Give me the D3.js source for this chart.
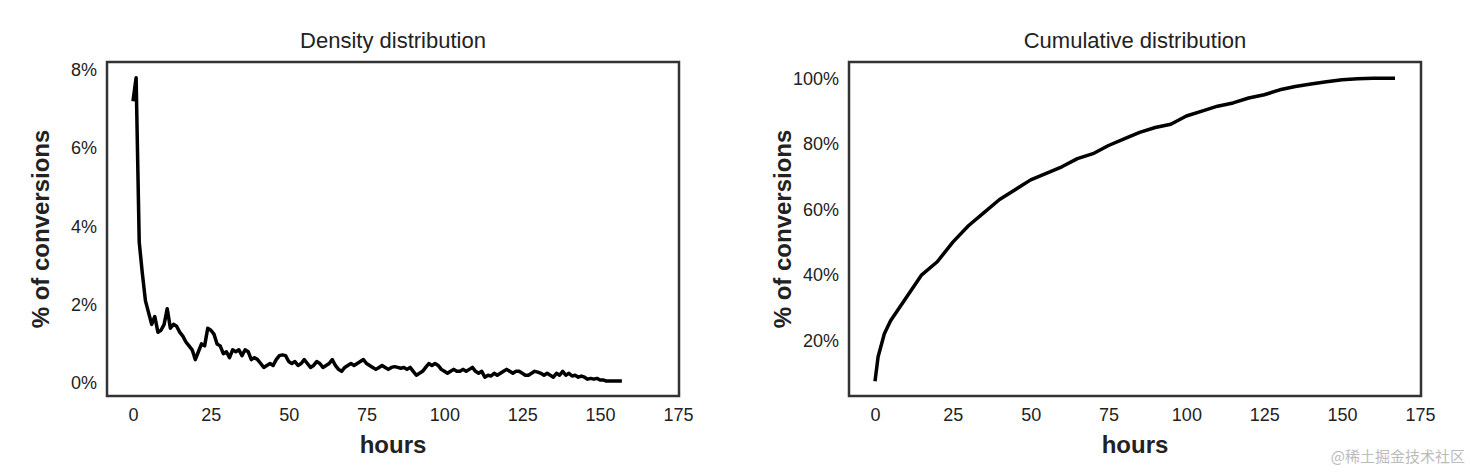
<!DOCTYPE html>
<html><head><meta charset="utf-8">
<script src="https://cdn.jsdelivr.net/npm/d3@7"></script>
<style>body{margin:0;background:#fff}svg{font-family:"Liberation Sans",Arial,sans-serif}</style>
</head><body><svg id="c" width="1470" height="472"></svg>
<script>
// density per hour, % of conversions (hours 0..167)
const densityVals = [
 7.2,7.8,3.6,2.8,2.1,1.8,1.5,1.7,1.3,1.35,1.5,1.9,1.4,1.5,1.45,1.3,1.2,1.05,0.95,0.85,
 0.6,0.8,1.0,0.95,1.4,1.35,1.25,1.0,0.95,0.75,0.8,0.65,0.85,0.8,0.85,0.7,0.85,0.8,0.6,0.65,
 0.6,0.5,0.4,0.45,0.5,0.45,0.6,0.7,0.72,0.7,0.55,0.5,0.55,0.45,0.5,0.6,0.5,0.4,0.45,0.55,
 0.5,0.4,0.45,0.5,0.6,0.45,0.35,0.3,0.4,0.45,0.5,0.45,0.5,0.55,0.6,0.5,0.45,0.4,0.35,0.4,
 0.45,0.4,0.35,0.4,0.42,0.4,0.38,0.4,0.35,0.4,0.3,0.2,0.25,0.3,0.4,0.5,0.45,0.5,0.45,0.35,
 0.3,0.25,0.3,0.35,0.3,0.3,0.35,0.3,0.35,0.4,0.3,0.25,0.3,0.15,0.2,0.18,0.25,0.2,0.25,0.3,
 0.35,0.3,0.25,0.3,0.3,0.25,0.2,0.2,0.25,0.3,0.28,0.25,0.2,0.25,0.2,0.15,0.25,0.2,0.3,0.2,
 0.25,0.18,0.2,0.15,0.18,0.15,0.1,0.12,0.1,0.12,0.08,0.08,0.05,0.05,0.05,0.05,0.05,0.05
];
const cumHours = [0,1,3,5,10,15,20,25,30,35,40,45,50,55,60,65,70,75,80,85,90,95,100,105,110,115,120,125,130,135,140,145,150,155,160,167];
const cumVals = [7.5,15,22,26,33,40,44,50,55,59,63,66,69,71,73,75.5,77,79.5,81.5,83.5,85,86,88.5,90,91.5,92.5,94,95,96.5,97.5,98.3,99,99.6,99.9,100,100];
const xTicks = [0,25,50,75,100,125,150,175];
const densTicks = [0,2,4,6,8];
const cumTicks = [20,40,60,80,100];

const svg = d3.select("#c");
const plotTop = 62, plotBottom = 396;

function panel(left, right, title, pts, yDomain, yTicks) {
  const x = d3.scaleLinear().domain([-8.35, 175.35]).range([left, right]);
  const y = d3.scaleLinear().domain(yDomain).range([plotBottom, plotTop]);
  const g = svg.append("g");
  g.append("text").attr("x", (left + right) / 2).attr("y", 48).attr("text-anchor", "middle")
    .attr("font-size", 22).attr("fill", "#222").text(title);
  const xa = g.append("g").attr("transform", `translate(0,${plotBottom})`)
    .call(d3.axisBottom(x).tickValues(xTicks).tickSize(0).tickPadding(12));
  xa.select(".domain").remove();
  xa.selectAll("text").attr("font-size", 18).attr("fill", "#222").attr("font-family", "Liberation Sans, Arial");
  const ya = g.append("g").attr("transform", `translate(${left},0)`)
    .call(d3.axisLeft(y).tickValues(yTicks).tickSize(0).tickPadding(10).tickFormat(d => d + "%"));
  ya.select(".domain").remove();
  ya.selectAll("text").attr("font-size", 18).attr("fill", "#222").attr("font-family", "Liberation Sans, Arial");
  g.append("path").datum(pts).attr("fill", "none").attr("stroke", "#000").attr("stroke-width", 3.5)
    .attr("stroke-linejoin", "round")
    .attr("d", d3.line().x(d => x(d[0])).y(d => y(d[1])));
  g.append("rect").attr("x", left).attr("y", plotTop).attr("width", right - left).attr("height", plotBottom - plotTop)
    .attr("fill", "none").attr("stroke", "#333").attr("stroke-width", 2.5);
  g.append("text").attr("x", (left + right) / 2).attr("y", 453).attr("text-anchor", "middle")
    .attr("font-size", 24).attr("font-weight", "bold").attr("fill", "#222").text("hours");
  g.append("text").attr("transform", `translate(${left - 58},${(plotTop + plotBottom) / 2}) rotate(-90)`)
    .attr("text-anchor", "middle").attr("font-size", 24).attr("font-weight", "bold").attr("fill", "#222")
    .text("% of conversions");
}

panel(107, 679, "Density distribution", densityVals.map((v, i) => [i, v]), [-0.33, 8.2], densTicks);
panel(849, 1421, "Cumulative distribution", cumHours.map((h, i) => [h, cumVals[i]]), [3, 105], cumTicks);

svg.append("text").attr("x", 1465).attr("y", 462).attr("text-anchor", "end").attr("font-size", 15)
  .attr("fill", "#bbb").attr("font-family", "Noto Sans CJK SC").text("@稀土掘金技术社区");
</script></body></html>
